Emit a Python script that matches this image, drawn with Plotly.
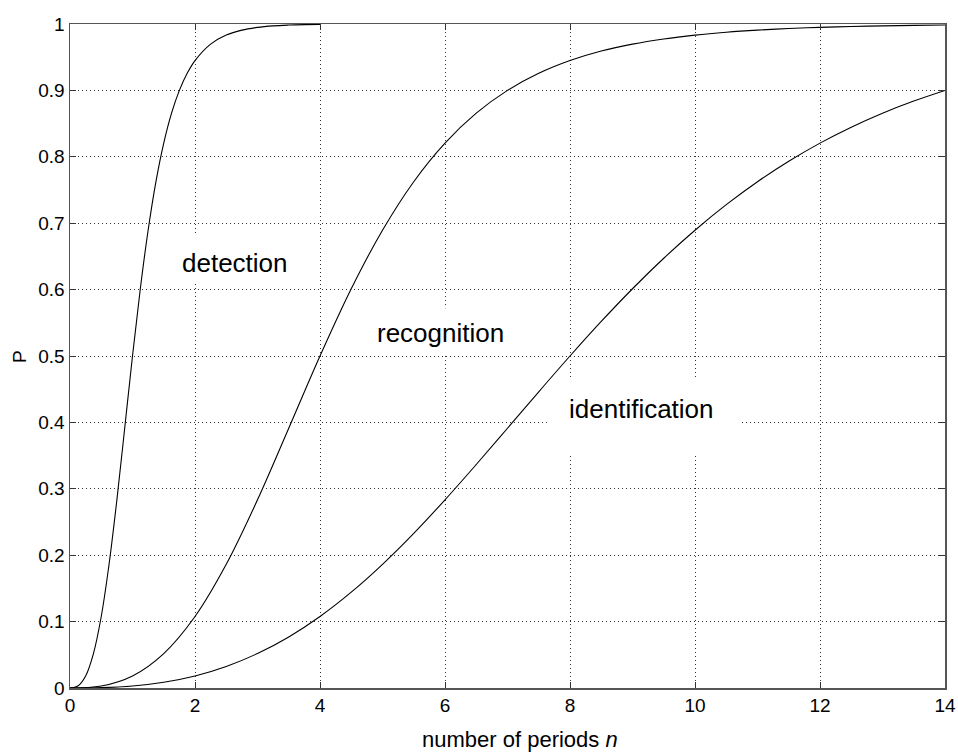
import plotly.graph_objects as go

# ---- data ----
n_detection = [0, 0.125, 0.25, 0.375, 0.5, 0.625, 0.75, 0.875, 1.0, 1.125, 1.25, 1.375, 1.5,
               1.625, 1.75, 1.875, 2.0, 2.25, 2.5, 2.75, 3.0, 3.25, 3.5, 3.75, 4.0]
p_detection = [0, 0.0030, 0.0182, 0.0519, 0.1077, 0.1863, 0.2834, 0.3912, 0.5, 0.6013, 0.6894,
               0.7625, 0.8206, 0.8657, 0.9000, 0.9257, 0.9449, 0.9697, 0.9833, 0.9908, 0.9949,
               0.9972, 0.9984, 0.9991, 0.9995]

n_steps = [0, 0.5, 1, 1.5, 2, 2.5, 3, 3.5, 4, 4.5, 5, 5.5, 6, 6.5, 7, 7.5, 8, 8.5, 9, 9.5,
           10, 10.5, 11, 11.5, 12, 12.5, 13, 13.5, 14]
p_recognition = [0, 0.0030, 0.0182, 0.0519, 0.1077, 0.1863, 0.2834, 0.3912, 0.5, 0.6013, 0.6894,
                 0.7625, 0.8206, 0.8657, 0.9000, 0.9257, 0.9449, 0.9592, 0.9697, 0.9775, 0.9833,
                 0.9876, 0.9908, 0.9932, 0.9949, 0.9962, 0.9972, 0.9979, 0.9984]
p_identification = [0, 0.0005, 0.0030, 0.0087, 0.0182, 0.0325, 0.0519, 0.0769, 0.1077, 0.1443,
                    0.1863, 0.2329, 0.2834, 0.3366, 0.3912, 0.4461, 0.5, 0.5520, 0.6013, 0.6472,
                    0.6894, 0.7279, 0.7625, 0.7933, 0.8206, 0.8446, 0.8657, 0.8840, 0.9000]

x_ticks = [0, 2, 4, 6, 8, 10, 12, 14]
y_ticks = [0, 0.1, 0.2, 0.3, 0.4, 0.5, 0.6, 0.7, 0.8, 0.9, 1]
y_tick_labels = ["0", "0.1", "0.2", "0.3", "0.4", "0.5", "0.6", "0.7", "0.8", "0.9", "1"]

labels = ["detection", "recognition", "identification"]
label_x = [2.64, 5.92, 9.14]
label_y = [0.64, 0.535, 0.42]
# white boxes behind the labels (data coords)
box_x0 = [1.52, 4.53, 7.63]
box_x1 = [3.84, 7.65, 10.75]
box_y0 = [0.610, 0.503, 0.354]
box_y1 = [0.681, 0.572, 0.467]

FONT = "Liberation Sans, Arial, sans-serif"

fig = go.Figure()
line_style = dict(color="black", width=1.1, shape="spline", smoothing=1.0)
fig.add_trace(go.Scatter(x=n_detection, y=p_detection, mode="lines", line=line_style, showlegend=False))
fig.add_trace(go.Scatter(x=n_steps, y=p_recognition, mode="lines", line=line_style, showlegend=False))
fig.add_trace(go.Scatter(x=n_steps, y=p_identification, mode="lines", line=line_style, showlegend=False))

for i in range(len(labels)):
    fig.add_shape(type="rect", xref="x", yref="y", x0=box_x0[i], x1=box_x1[i], y0=box_y0[i], y1=box_y1[i],
                  fillcolor="white", line=dict(width=0), layer="between")
    fig.add_annotation(x=label_x[i], y=label_y[i], xref="x", yref="y", text=labels[i], showarrow=False,
                       font=dict(family=FONT, size=26, color="black"))

# plot area spans 875 x 664 px, from (70, 24) to (945, 688) in the window
fig.add_annotation(x=(520 - 70) / 875, y=(688 - 739) / 664, xref="paper", yref="paper",
                   text="number of periods <i>n</i>", showarrow=False, yanchor="middle",
                   font=dict(family=FONT, size=22, color="black"))
fig.add_annotation(x=(19 - 70) / 875, y=(688 - 357) / 664, xref="paper", yref="paper",
                   text="P", showarrow=False, textangle=-90, xanchor="center", yanchor="middle",
                   font=dict(family=FONT, size=19, color="black"))

axis_common = dict(
    showline=True, linecolor="#555555", linewidth=1.5, mirror="allticks",
    ticks="inside", ticklen=6, tickcolor="#333333", tickwidth=1,
    showgrid=True, gridcolor="#333333", gridwidth=1, griddash="1px,3px",
    zeroline=False, automargin=False, tickfont=dict(family=FONT, size=19, color="black"),
)
fig.update_xaxes(range=[0, 14], tickvals=x_ticks, ticktext=[str(v) for v in x_ticks], **axis_common)
fig.update_yaxes(range=[0, 1], tickvals=y_ticks, ticktext=y_tick_labels, **axis_common)

fig.update_layout(
    width=958, height=754,
    margin=dict(l=70, r=13, t=24, b=66),
    paper_bgcolor="white", plot_bgcolor="white",
    font=dict(family=FONT, color="black"),
    hovermode=False,
)

# remove the page's default body margin so the figure fills the window exactly
fig.write_html(
    "out.html",
    config={"displayModeBar": False, "staticPlot": True},
    post_script="document.body.style.margin='0';document.body.style.overflow='hidden';",
)
